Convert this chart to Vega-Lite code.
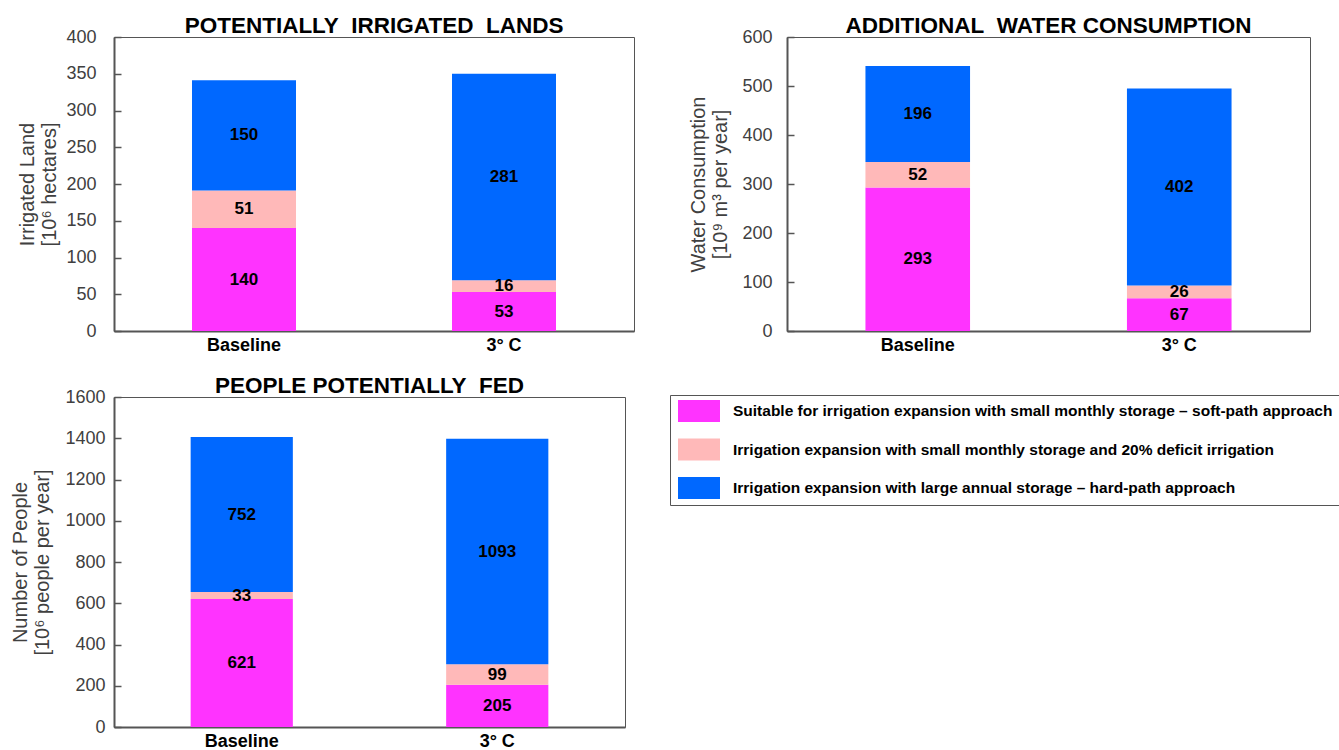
{
  "$schema": "https://vega.github.io/schema/vega-lite/v6.json",
  "padding": {"left": 10, "top": 14, "right": 0, "bottom": 0},
  "background": "white",
  "config": {
    "font": "Liberation Sans",
    "view": {"stroke": "#555", "strokeWidth": 1},
    "title": {"font": "Liberation Sans", "fontSize": 22.5, "fontWeight": "bold", "color": "#000", "offset": -9},
    "axisX": {"labelFont": "Liberation Sans", "labelFontWeight": "bold", "labelFontSize": 18, "labelColor": "#000", "ticks": false, "domainColor": "#555", "domainWidth": 2, "labelPadding": 5, "labelAngle": 0, "title": null},
    "axisY": {"labelFont": "Liberation Sans", "labelFontSize": 18, "labelColor": "#404040", "tickColor": "#555", "tickSize": -7, "tickWidth": 1.5, "domainColor": "#555", "domainWidth": 2, "grid": false, "titleFont": "Liberation Sans", "titleFontSize": 20, "titleFontWeight": "normal", "titleColor": "#404040", "titleLineHeight": 22, "labelPadding": 16, "format": "d"}
  },
  "datasets": {
    "d": [
      {"panel": "land", "scenario": "Baseline", "category": "Suitable for irrigation expansion with small monthly storage – soft-path approach", "value": 140},
      {"panel": "land", "scenario": "Baseline", "category": "Irrigation expansion with small monthly storage and 20% deficit irrigation", "value": 51},
      {"panel": "land", "scenario": "Baseline", "category": "Irrigation expansion with large annual storage – hard-path approach", "value": 150},
      {"panel": "land", "scenario": "3° C", "category": "Suitable for irrigation expansion with small monthly storage – soft-path approach", "value": 53},
      {"panel": "land", "scenario": "3° C", "category": "Irrigation expansion with small monthly storage and 20% deficit irrigation", "value": 16},
      {"panel": "land", "scenario": "3° C", "category": "Irrigation expansion with large annual storage – hard-path approach", "value": 281},
      {"panel": "water", "scenario": "Baseline", "category": "Suitable for irrigation expansion with small monthly storage – soft-path approach", "value": 293},
      {"panel": "water", "scenario": "Baseline", "category": "Irrigation expansion with small monthly storage and 20% deficit irrigation", "value": 52},
      {"panel": "water", "scenario": "Baseline", "category": "Irrigation expansion with large annual storage – hard-path approach", "value": 196},
      {"panel": "water", "scenario": "3° C", "category": "Suitable for irrigation expansion with small monthly storage – soft-path approach", "value": 67},
      {"panel": "water", "scenario": "3° C", "category": "Irrigation expansion with small monthly storage and 20% deficit irrigation", "value": 26},
      {"panel": "water", "scenario": "3° C", "category": "Irrigation expansion with large annual storage – hard-path approach", "value": 402},
      {"panel": "people", "scenario": "Baseline", "category": "Suitable for irrigation expansion with small monthly storage – soft-path approach", "value": 621},
      {"panel": "people", "scenario": "Baseline", "category": "Irrigation expansion with small monthly storage and 20% deficit irrigation", "value": 33},
      {"panel": "people", "scenario": "Baseline", "category": "Irrigation expansion with large annual storage – hard-path approach", "value": 752},
      {"panel": "people", "scenario": "3° C", "category": "Suitable for irrigation expansion with small monthly storage – soft-path approach", "value": 205},
      {"panel": "people", "scenario": "3° C", "category": "Irrigation expansion with small monthly storage and 20% deficit irrigation", "value": 99},
      {"panel": "people", "scenario": "3° C", "category": "Irrigation expansion with large annual storage – hard-path approach", "value": 1093}
    ]
  },
  "data": {"name": "d"},
  "columns": 2,
  "align": "none",
  "spacing": {"row": 19, "column": 53},
  "concat": [
    {
      "width": 520, "height": 294,
      "title": "POTENTIALLY\u00a0 IRRIGATED\u00a0 LANDS",
      "transform": [{"filter": {"field": "panel", "equal": "land"}}],
      "encoding": {
        "x": {"field": "scenario", "type": "nominal", "sort": ["Baseline", "3° C"], "scale": {"paddingInner": 0.6, "paddingOuter": 0.3}},
        "order": {"field": "category", "sort": "descending"}
      },
      "layer": [
        {"mark": {"type": "bar"},
         "encoding": {
           "y": {"field": "value", "type": "quantitative", "stack": "zero", "scale": {"domain": [0, 400], "nice": false}, "axis": {"values": [0, 50, 100, 150, 200, 250, 300, 350, 400], "titlePadding": 6, "labelPadding": 25, "title": ["Irrigated Land", "[10⁶ hectares]"]}},
           "color": {"field": "category", "type": "nominal", "scale": {"domain": ["Suitable for irrigation expansion with small monthly storage – soft-path approach", "Irrigation expansion with small monthly storage and 20% deficit irrigation", "Irrigation expansion with large annual storage – hard-path approach"], "range": ["#FF33FF", "#FFB9B9", "#0068FF"]},
             "legend": {"orient": "none", "legendX": 556, "legendY": 358, "title": null, "symbolType": "M-2.1,-1.1H2.1V1.1H-2.1Z", "symbolSize": 400, "symbolStrokeWidth": 0, "symbolOpacity": 1, "labelFont": "Liberation Sans", "labelFontWeight": "bold", "labelFontSize": 15.5, "labelColor": "#000", "rowPadding": 16.5, "strokeColor": "#555", "padding": 6, "symbolOffset": 13, "labelOffset": 24, "labelLimit": 1000}}
         }},
        {"mark": {"type": "text", "font": "Liberation Sans", "fontWeight": "bold", "fontSize": 17, "color": "#000"},
         "encoding": {
           "y": {"field": "value", "type": "quantitative", "stack": "zero", "bandPosition": 0.5, "scale": {"domain": [0, 400], "nice": false}, "axis": {"values": [0, 50, 100, 150, 200, 250, 300, 350, 400], "titlePadding": 6, "labelPadding": 25, "title": ["Irrigated Land", "[10⁶ hectares]"]}},
           "detail": {"field": "category"},
           "text": {"field": "value", "type": "quantitative"}
         }}
      ]
    },
    {
      "width": 523, "height": 294,
      "title": "ADDITIONAL\u00a0 WATER CONSUMPTION",
      "transform": [{"filter": {"field": "panel", "equal": "water"}}],
      "encoding": {
        "x": {"field": "scenario", "type": "nominal", "sort": ["Baseline", "3° C"], "scale": {"paddingInner": 0.6, "paddingOuter": 0.3}},
        "order": {"field": "category", "sort": "descending"}
      },
      "layer": [
        {"mark": {"type": "bar"},
         "encoding": {
           "y": {"field": "value", "type": "quantitative", "stack": "zero", "scale": {"domain": [0, 600], "nice": false}, "axis": {"values": [0, 100, 200, 300, 400, 500, 600], "titlePadding": 11, "labelPadding": 22, "title": ["Water Consumption", "[10⁹ m³ per year]"]}},
           "color": {"field": "category", "type": "nominal"}
         }},
        {"mark": {"type": "text", "font": "Liberation Sans", "fontWeight": "bold", "fontSize": 17, "color": "#000"},
         "encoding": {
           "y": {"field": "value", "type": "quantitative", "stack": "zero", "bandPosition": 0.5, "scale": {"domain": [0, 600], "nice": false}, "axis": {"values": [0, 100, 200, 300, 400, 500, 600], "titlePadding": 11, "labelPadding": 22, "title": ["Water Consumption", "[10⁹ m³ per year]"]}},
           "detail": {"field": "category"},
           "text": {"field": "value", "type": "quantitative"}
         }}
      ]
    },
    {
      "width": 511, "height": 330,
      "title": "PEOPLE POTENTIALLY\u00a0 FED",
      "transform": [{"filter": {"field": "panel", "equal": "people"}}],
      "encoding": {
        "x": {"field": "scenario", "type": "nominal", "sort": ["Baseline", "3° C"], "scale": {"paddingInner": 0.6, "paddingOuter": 0.3}},
        "order": {"field": "category", "sort": "descending"}
      },
      "layer": [
        {"mark": {"type": "bar"},
         "encoding": {
           "y": {"field": "value", "type": "quantitative", "stack": "zero", "scale": {"domain": [0, 1600], "nice": false}, "axis": {"values": [0, 200, 400, 600, 800, 1000, 1200, 1400, 1600], "titlePadding": 12, "labelPadding": 16, "title": ["Number of People", "[10⁶ people per year]"]}},
           "color": {"field": "category", "type": "nominal"}
         }},
        {"mark": {"type": "text", "font": "Liberation Sans", "fontWeight": "bold", "fontSize": 17, "color": "#000"},
         "encoding": {
           "y": {"field": "value", "type": "quantitative", "stack": "zero", "bandPosition": 0.5, "scale": {"domain": [0, 1600], "nice": false}, "axis": {"values": [0, 200, 400, 600, 800, 1000, 1200, 1400, 1600], "titlePadding": 12, "labelPadding": 16, "title": ["Number of People", "[10⁶ people per year]"]}},
           "detail": {"field": "category"},
           "text": {"field": "value", "type": "quantitative"}
         }}
      ]
    }
  ]
}
